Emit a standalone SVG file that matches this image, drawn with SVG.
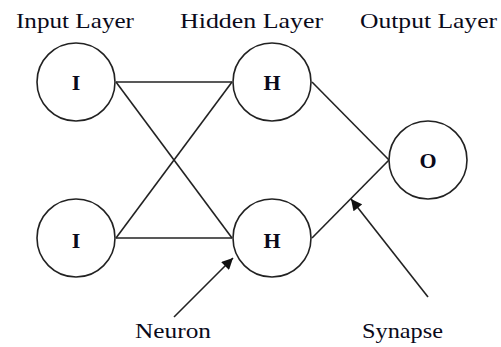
<svg xmlns="http://www.w3.org/2000/svg" width="501" height="347" viewBox="0 0 501 347">
<defs>
<style>
.n{fill:#fff;stroke:#222;stroke-width:1.6}
.l{stroke:#222;stroke-width:1.6;fill:none}
.t{font-family:"Liberation Serif","Times New Roman",serif;font-size:22px;fill:#0a0a1a}
.c{font-family:"Liberation Serif","Times New Roman",serif;font-size:22px;font-weight:bold;fill:#0a0a1a;text-anchor:middle}
</style>
<marker id="ah" viewBox="0 0 10 10" refX="10" refY="5" markerWidth="8" markerHeight="7" markerUnits="strokeWidth" orient="auto">
<path d="M0,0 L10,5 L0,10 z" fill="#111"/>
</marker>
</defs>
<rect width="501" height="347" fill="#fff"/>
<g id="titles">
<text class="t" x="16" y="28" textLength="118" lengthAdjust="spacingAndGlyphs">Input Layer</text>
<text class="t" x="180" y="28" textLength="143" lengthAdjust="spacingAndGlyphs">Hidden Layer</text>
<text class="t" x="360" y="28" textLength="137" lengthAdjust="spacingAndGlyphs">Output Layer</text>
</g>
<g id="connectors">
<line class="l" x1="116" y1="82" x2="232" y2="82"/>
<line class="l" x1="116" y1="82" x2="232" y2="238"/>
<line class="l" x1="116" y1="238" x2="232" y2="82"/>
<line class="l" x1="116" y1="238" x2="232" y2="238"/>
<line class="l" x1="312" y1="82" x2="389" y2="160"/>
<line class="l" x1="312" y1="238" x2="389" y2="160"/>
<line class="l" x1="174" y1="317" x2="233" y2="258" marker-end="url(#ah)"/>
<line class="l" x1="428" y1="297" x2="351" y2="199" marker-end="url(#ah)"/>
</g>
<g id="input1"><circle class="n" cx="76" cy="82" r="39"/><text class="c" x="76" y="90">I</text></g>
<g id="input2"><circle class="n" cx="76" cy="238" r="39"/><text class="c" x="76" y="248">I</text></g>
<g id="hidden1"><circle class="n" cx="272" cy="82" r="39"/><text class="c" x="272" y="90">H</text></g>
<g id="hidden2"><circle class="n" cx="272" cy="238" r="39"/><text class="c" x="272" y="248">H</text></g>
<g id="output"><circle class="n" cx="428" cy="160" r="39"/><text class="c" x="428" y="168">O</text></g>
<g id="labels">
<text class="t" x="135" y="338" textLength="76" lengthAdjust="spacingAndGlyphs">Neuron</text>
<text class="t" x="362" y="338" textLength="81" lengthAdjust="spacingAndGlyphs">Synapse</text>
</g>
</svg>
